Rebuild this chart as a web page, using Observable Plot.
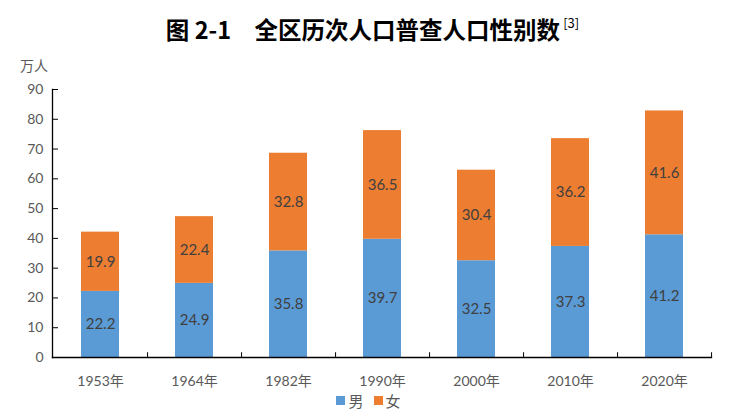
<!DOCTYPE html>
<html><head><meta charset="utf-8">
<script src="https://cdn.jsdelivr.net/npm/d3@7"></script>
<script src="https://cdn.jsdelivr.net/npm/@observablehq/plot@0.6"></script>
<style>
body{margin:0;background:#fff;font-family:Lato,"Noto Sans CJK SC",sans-serif;}
#wrap{position:relative;width:737px;height:420px;}
#title{height:62px;line-height:46px;text-align:center;font-family:"Noto Sans CJK SC",sans-serif;font-weight:bold;font-size:23.5px;color:#000;padding-left:8px;box-sizing:border-box;white-space:nowrap;}
#title sup{font-weight:normal;font-size:13px;vertical-align:11px;margin-left:3px;}
#unit{position:absolute;left:20px;top:56px;font-size:14px;line-height:18px;color:#595959;font-family:"Noto Sans CJK SC",sans-serif;}
#legend{display:flex;justify-content:center;align-items:center;font-size:15px;color:#595959;font-family:"Noto Sans CJK SC",sans-serif;height:20px;margin-top:-2px;}
#legend .sw{display:inline-block;width:9px;height:9px;margin-right:3px;}
#legend span.item{display:inline-flex;align-items:center;margin:0 5px;}
</style></head>
<body><div id="wrap">
<div id="title">图 2-1&#x3000;全区历次人口普查人口性别数<sup>[3]</sup></div>
<div id="unit">万人</div>
<div id="chart"></div>
<div id="legend"></div>
</div>
<script>
const years = ["1953年","1964年","1982年","1990年","2000年","2010年","2020年"];
const male = [22.2, 24.9, 35.8, 39.7, 32.5, 37.3, 41.2];
const female = [19.9, 22.4, 32.8, 36.5, 30.4, 36.2, 41.6];
const seriesNames = ["男","女"];
const seriesColors = ["#5B9BD5","#ED7D31"];
const yTicks = [0,10,20,30,40,50,60,70,80,90];

const data = [];
years.forEach((y,i)=>{
  data.push({year:y, sex:seriesNames[0], value:male[i]});
  data.push({year:y, sex:seriesNames[1], value:female[i]});
});

const width = 737, height = 330, mL = 52, mR = 26;
const step = (width - mL - mR) / years.length;

const chart = Plot.plot({
  width, height,
  marginLeft: mL, marginRight: mR, marginTop: 27, marginBottom: 35,
  style:{fontFamily:'Lato,"Noto Sans CJK SC",sans-serif', fontSize:"13px", color:"#595959", background:"#fff"},
  x:{domain:years, paddingInner:0.6, paddingOuter:0.3, label:null},
  y:{domain:[0,90], label:null},
  color:{domain:seriesNames, range:seriesColors},
  marks:[
    Plot.barY(data, {x:"year", y:"value", fill:"sex"}),
    Plot.text(data, Plot.stackY({x:"year", y:"value", z:"sex", text:d=>d.value.toFixed(1), fill:"#404040", fontSize:15})),
    Plot.ruleX(years, {x:d=>d, dx:step/2, y1:0, y2:1.6, stroke:"#000", strokeWidth:1}),
    Plot.frame({anchor:"bottom", stroke:"#000", strokeWidth:1.3}),
    Plot.frame({anchor:"left", stroke:"#000", strokeWidth:1.3}),
    Plot.axisY({ticks:yTicks, tickSize:-6, tickPadding:15, stroke:"#000", fill:"#595959", fontSize:14, label:null}),
    Plot.axisX({tickSize:0, tickPadding:19, fill:"#595959", fontSize:14, label:null})
  ]
});
document.getElementById("chart").appendChild(chart);

const lg = document.getElementById("legend");
seriesNames.forEach((n,i)=>{
  const it = document.createElement("span"); it.className="item";
  const sw = document.createElement("span"); sw.className="sw"; sw.style.background=seriesColors[i];
  it.appendChild(sw); it.appendChild(document.createTextNode(n));
  lg.appendChild(it);
});
</script>
</body></html>
